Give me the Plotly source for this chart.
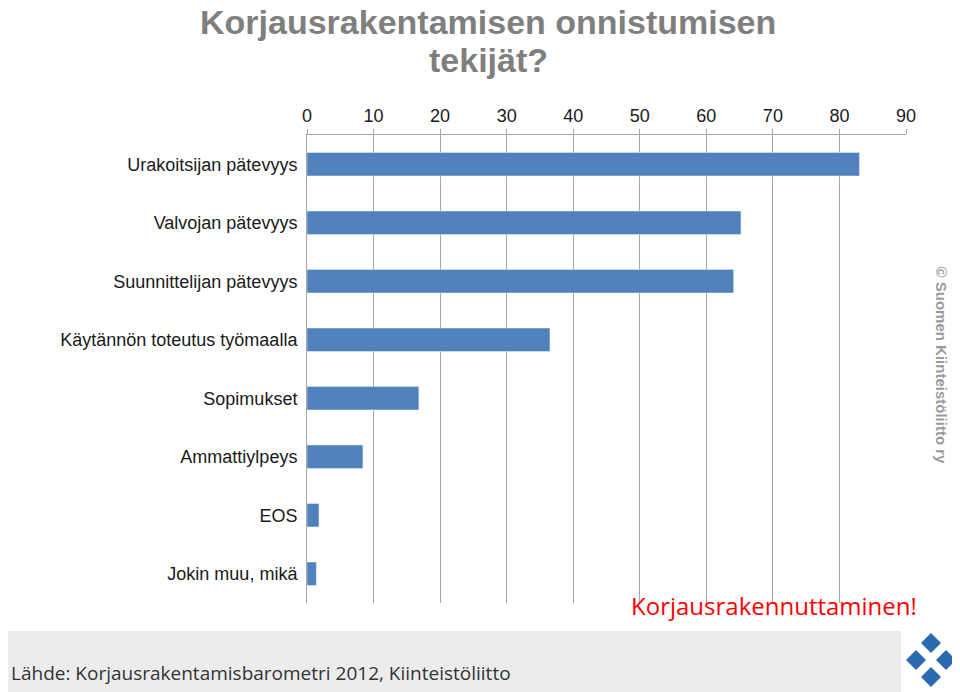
import plotly.graph_objects as go

categories = ["Urakoitsijan pätevyys", "Valvojan pätevyys", "Suunnittelijan pätevyys",
              "Käytännön toteutus työmaalla", "Sopimukset", "Ammattiylpeys", "EOS",
              "Jokin muu, mikä"]
values = [83.0, 65.2, 64.1, 36.5, 16.8, 8.4, 1.8, 1.4]
tick_vals = [0, 10, 20, 30, 40, 50, 60, 70, 80, 90]
title_lines = ["Korjausrakentamisen onnistumisen", "tekijät?"]


def px(x):
    return (x - 306) / 599


def py(y):
    return (602 - y) / 468


fig = go.Figure()
fig.add_trace(go.Bar(x=values, y=categories, orientation="h",
                     marker_color="#4f81bd", width=0.4))

fig.update_layout(
    width=960, height=692, autosize=False,
    paper_bgcolor="white", plot_bgcolor="white",
    margin=dict(l=299, r=62, t=127, b=97, autoexpand=False),
    showlegend=False,
    font=dict(family="Liberation Sans, Arial", size=18, color="#1a1a1a"),
)
fig.update_xaxes(side="top", range=[0, 90], tickvals=tick_vals, showgrid=True,
                 gridcolor="#a6a6a6", gridwidth=1, showline=True, linecolor="#a6a6a6",
                 ticks="outside", ticklen=5, tickcolor="#a6a6a6", zeroline=False,
                 automargin=False, tickfont=dict(size=18))
fig.update_yaxes(autorange="reversed", showline=True, linecolor="#a6a6a6",
                 ticks="", ticksuffix=" ", automargin=False, tickfont=dict(size=18))

# skyline band
fig.add_shape(type="rect", xref="paper", yref="paper", x0=px(0), x1=px(900), y0=py(692), y1=py(630),
              fillcolor="#ececec", line_width=0, layer="below")

for line, yc in zip(title_lines, [21, 59]):
    fig.add_annotation(text=f"<b>{line}</b>", xref="paper", yref="paper",
                       x=px(487), y=py(yc), xanchor="center", yanchor="middle",
                       showarrow=False,
                       font=dict(size=34, color="#7f7f7f", family="Liberation Sans, Arial"))
fig.add_annotation(text="<b>© Suomen Kiinteistöliitto ry</b>", xref="paper", yref="paper",
                   x=px(950), y=py(465), textangle=90, showarrow=False,
                   font=dict(size=15, color="#9a9a9a"))
fig.add_annotation(text="Korjausrakennuttaminen!", xref="paper", yref="paper",
                   x=px(918), y=py(586), xanchor="right", yanchor="top", showarrow=False,
                   font=dict(size=24, color="#ff0000", family="Liberation Sans Narrow, Open Sans"))
fig.add_annotation(text="Lähde: Korjausrakentamisbarometri 2012, Kiinteistöliitto", xref="paper", yref="paper",
                   x=px(8), y=py(672), xanchor="left", yanchor="middle", showarrow=False,
                   font=dict(size=19, color="#333333", family="Open Sans"))

# logo diamonds
for cx, cy in [(930, 642), (945, 659), (915, 659), (930, 676)]:
    fig.add_shape(type="path", xref="paper", yref="paper",
                  path=f"M {px(cx)},{py(cy-10)} L {px(cx+10)},{py(cy)} "
                       f"L {px(cx)},{py(cy+10)} L {px(cx-10)},{py(cy)} Z",
                  fillcolor="#2a6bb0", line_width=0)

fig.write_html("out.html")
